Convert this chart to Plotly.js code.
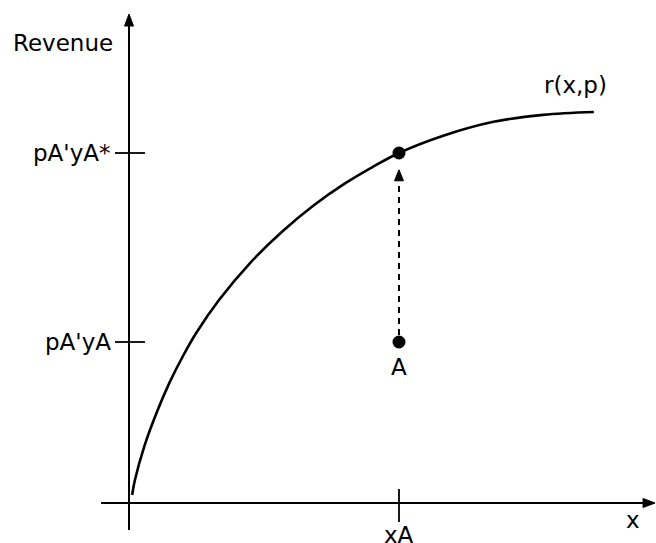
<!DOCTYPE html>
<html>
<head>
<meta charset="utf-8">
<script src="https://cdn.plot.ly/plotly-3.0.1.min.js"></script>
<style>html,body{margin:0;padding:0;background:#fff;}#chart{width:656px;height:543px;}</style>
</head>
<body>
<div id="chart"></div>
<script>
// ---- data ----
const curveX = [0.07, 0.13, 0.34, 0.62, 0.9, 1.2, 1.5, 2.0, 2.7, 3.4, 4.1, 4.8, 5.4, 6.0, 7.0, 8.1, 9.2, 10.33];
const curveY = [0.23, 0.65, 1.62, 2.6, 3.44, 4.2, 4.87, 5.8, 6.87, 7.75, 8.5, 9.13, 9.59, 10.0, 10.5, 10.89, 11.09, 11.17];
const curveLabel = "r(x,p)";

const optimumX = [6];
const optimumY = [10];
const pointAX = [6];
const pointAY = [4.6];
const pointALabel = "A";

const yTickVals = [10, 4.6];
const yTickLabels = ["pA'yA*", "pA'yA"];
const xTickVals = [6];
const xTickLabels = ["xA"];

const xAxisTitle = "x";
const yAxisTitle = "Revenue";

// axis extents (data units)
const xAxisFrom = -0.62, xAxisTo = 11.69;
const yAxisFrom = -0.77, yAxisTo = 13.97;

// ---- drawing ----
const FONT = {family: "DejaVu Sans, sans-serif", size: 23, color: "#000"};
const BLACK = "#000";

const traces = [
  {x: curveX, y: curveY, mode: "lines", line: {color: BLACK, width: 2.6, shape: "spline", smoothing: 1}, hoverinfo: "skip"},
  // dashed arrow shaft from A up towards the optimum
  {x: [pointAX[0], optimumX[0]], y: [pointAY[0] + 0.2, optimumY[0] - 0.72], mode: "lines",
   line: {color: BLACK, width: 2, dash: "6px,5px"}, hoverinfo: "skip"},
  {x: optimumX.concat(pointAX), y: optimumY.concat(pointAY), mode: "markers",
   marker: {color: BLACK, size: 13}, hoverinfo: "skip"}
];

const shapes = [];
// axes
shapes.push({type: "line", x0: xAxisFrom, x1: xAxisTo - 0.24, y0: 0, y1: 0, line: {color: BLACK, width: 2}});
shapes.push({type: "line", x0: 0, x1: 0, y0: yAxisFrom, y1: yAxisTo - 0.3, line: {color: BLACK, width: 2}});
// arrowheads (pixel-sized paths anchored at data points)
shapes.push({type: "path", xsizemode: "pixel", ysizemode: "pixel", xanchor: 0, yanchor: yAxisTo,
  path: "M0,0 L-4.5,-12 L4.5,-12 Z", fillcolor: BLACK, line: {color: BLACK, width: 1}});
shapes.push({type: "path", xsizemode: "pixel", ysizemode: "pixel", xanchor: xAxisTo, yanchor: 0,
  path: "M0,0 L-12,-4.5 L-12,4.5 Z", fillcolor: BLACK, line: {color: BLACK, width: 1}});
shapes.push({type: "path", xsizemode: "pixel", ysizemode: "pixel", xanchor: optimumX[0], yanchor: optimumY[0] - 0.48,
  path: "M0,0 L-4.5,-11 L4.5,-11 Z", fillcolor: BLACK, line: {color: BLACK, width: 1}});
// ticks
yTickVals.forEach(v => shapes.push({type: "line", xsizemode: "pixel", xanchor: 0, x0: -14, x1: 16, y0: v, y1: v, line: {color: BLACK, width: 1.8}}));
xTickVals.forEach(v => shapes.push({type: "line", ysizemode: "pixel", yanchor: 0, y0: 14, y1: -19, x0: v, x1: v, line: {color: BLACK, width: 1.8}}));

const annotations = [];
yTickVals.forEach((v, i) => annotations.push({x: 0, y: v, xref: "x", yref: "y", text: yTickLabels[i], showarrow: false,
  xanchor: "right", yanchor: "middle", xshift: -16, font: FONT}));
xTickVals.forEach((v, i) => annotations.push({x: v, y: 0, xref: "x", yref: "y", text: xTickLabels[i], showarrow: false,
  xanchor: "center", yanchor: "top", yshift: -17, font: FONT}));
annotations.push({x: 0, y: yAxisTo, text: yAxisTitle, showarrow: false, xanchor: "center", yanchor: "middle", xshift: -66, yshift: -29, font: FONT});
annotations.push({x: xAxisTo, y: 0, text: xAxisTitle, showarrow: false, xanchor: "center", yanchor: "middle", xshift: -22, yshift: -17, font: FONT});
annotations.push({x: curveX[curveX.length - 1], y: curveY[curveY.length - 1], text: curveLabel, showarrow: false, xanchor: "center", yanchor: "middle", xshift: -18, yshift: 27, font: FONT});
annotations.push({x: pointAX[0], y: pointAY[0], text: pointALabel, showarrow: false, xanchor: "center", yanchor: "middle", yshift: -25, font: FONT});

const layout = {
  width: 656, height: 543,
  margin: {l: 0, r: 0, t: 0, b: 0},
  paper_bgcolor: "#fff", plot_bgcolor: "#fff",
  showlegend: false,
  xaxis: {range: [-129 / 45, (656 - 129) / 45], visible: false, fixedrange: true},
  yaxis: {range: [(503 - 543) / 35, 503 / 35], visible: false, fixedrange: true},
  shapes: shapes,
  annotations: annotations
};

Plotly.newPlot("chart", traces, layout, {staticPlot: true, displayModeBar: false});
</script>
</body>
</html>
